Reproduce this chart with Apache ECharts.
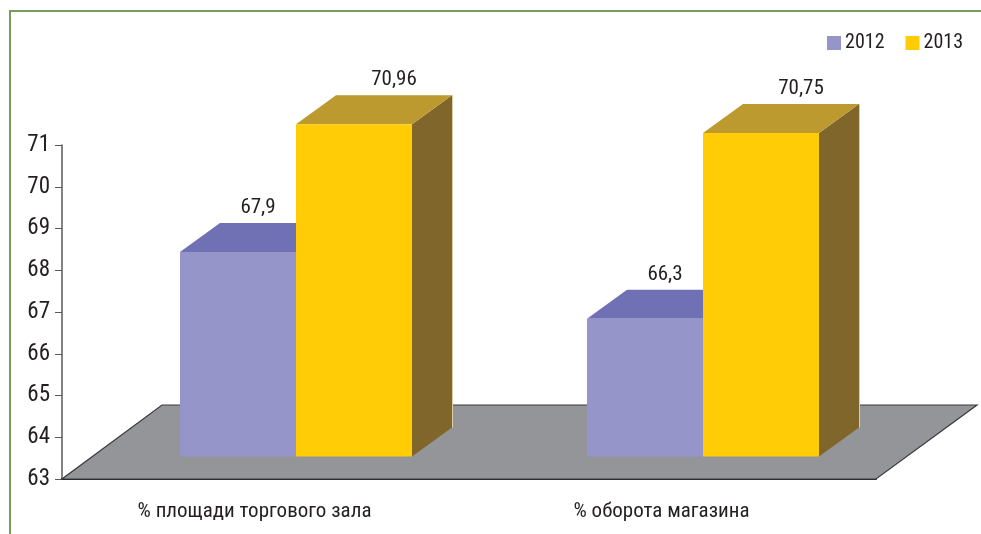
<!DOCTYPE html>
<html>
<head>
<meta charset="utf-8">
<style>html,body{margin:0;padding:0;background:#fff}#chart{width:981px;height:534px}</style>
<script src="https://cdn.jsdelivr.net/npm/echarts@6/dist/echarts.min.js"></script>
</head>
<body>
<div id="chart"></div>
<script>
var categories = ['% площади торгового зала', '% оборота магазина'];
var years = ['2012', '2013'];
var values2012 = [67.9, 66.3];
var values2013 = [70.96, 70.75];

var FONT = '"Roboto Condensed","Liberation Sans",sans-serif';
var INK = '#231f20';
var chart = echarts.init(document.getElementById('chart'));

// 3d look: bars stand 23px up and 30px right of the axis, 40/29 deep
function barItem(front, side, top, slot, labelDx) {
	return function(params, api) {
		var p = api.coord([api.value(0), api.value(1)]);
		var w = 116, dx = 30.5, dy = -22.5, depX = 40, depY = -29;
		var x0 = p[0] + dx + (slot - 1) * w, y0 = p[1] + dy;
		var x1 = x0 + w, yb = api.coord([0, 63])[1] + dy;
		return {
			type: 'group',
			children: [
				{ type: 'polygon', shape: { points: [[x1, y0], [x1 + depX, y0 + depY], [x1 + depX, yb + depY], [x1, yb]] }, style: { fill: side } },
				{ type: 'polygon', shape: { points: [[x0, y0], [x0 + depX, y0 + depY], [x1 + depX, y0 + depY], [x1, y0]] }, style: { fill: top } },
				{ type: 'line', shape: { x1: x1 + depX + 0.5, y1: y0 + depY, x2: x1 + depX + 0.5, y2: yb + depY }, style: { stroke: '#d8cfa8', lineWidth: 1 } },
				{ type: 'rect', shape: { x: x0, y: y0, width: w, height: yb - y0 }, style: { fill: front } },
				{ type: 'text', style: { x: x0 + w / 2 + depX / 2 + labelDx, y: y0 - 44, text: String(api.value(1)).replace('.', ','), fill: INK, font: '21px ' + FONT, align: 'center', verticalAlign: 'middle' } }
			]
		};
	};
}

function floorItem(params, api) {
	var c = params.coordSys;
	var y0 = c.y + c.height;
	return {
		type: 'polygon',
		shape: { points: [[c.x, y0], [c.x + c.width, y0], [c.x + c.width + 101, y0 - 74], [c.x + 100, y0 - 74]] },
		style: { fill: '#939598', stroke: '#3a3a3c', lineWidth: 1.2 }
	};
}

chart.setOption({
	animation: false,
	legend: {
		right: 13, top: 28, itemWidth: 14, itemHeight: 14, itemGap: 21,
		icon: 'rect', data: years,
		textStyle: { fontFamily: FONT, fontSize: 20, color: INK, padding: [0, 0, 3, -1] }
	},
	grid: { left: 62, top: 145, width: 814, height: 334 },
	xAxis: {
		type: 'category', data: categories,
		axisLine: { lineStyle: { color: '#231f20', width: 2 } },
		axisTick: { length: 7, lineStyle: { color: '#58595b' } },
		axisLabel: { fontFamily: FONT, fontSize: 21, color: INK, margin: 22, padding: [0, 22, 0, 0] }
	},
	yAxis: {
		type: 'value', min: 63, max: 71, interval: 1,
		axisLine: { show: true, lineStyle: { color: '#58595b', width: 1.5 } },
		axisTick: { show: true, length: 7, lineStyle: { color: '#58595b' } },
		axisLabel: { fontFamily: FONT, fontSize: 23, color: INK, margin: 12, padding: [4, 0, 0, 0] },
		splitLine: { show: false }
	},
	graphic: [{
		type: 'polyline', silent: true,
		shape: { points: [[981, 11], [10, 11], [10, 534]] },
		style: { stroke: '#7c9a5e', lineWidth: 2, fill: null }
	}],
	series: [
		{ type: 'custom', silent: true, z: 1, data: [[0, 63]], renderItem: floorItem, encode: { x: 0, y: 1 } },
		{ name: years[0], type: 'custom', z: 2, itemStyle: { color: '#9595c9' }, encode: { x: 0, y: 1 },
			data: values2012.map(function(v, i) { return [i, v]; }),
			renderItem: barItem('#9595c9', '#7070b4', '#7070b4', 0, 0) },
		{ name: years[1], type: 'custom', z: 3, itemStyle: { color: '#ffcc05' }, encode: { x: 0, y: 1 },
			data: values2013.map(function(v, i) { return [i, v]; }),
			renderItem: barItem('#ffcc05', '#80662a', '#bc9a30', 1, 20) }
	]
});
</script>
</body>
</html>
